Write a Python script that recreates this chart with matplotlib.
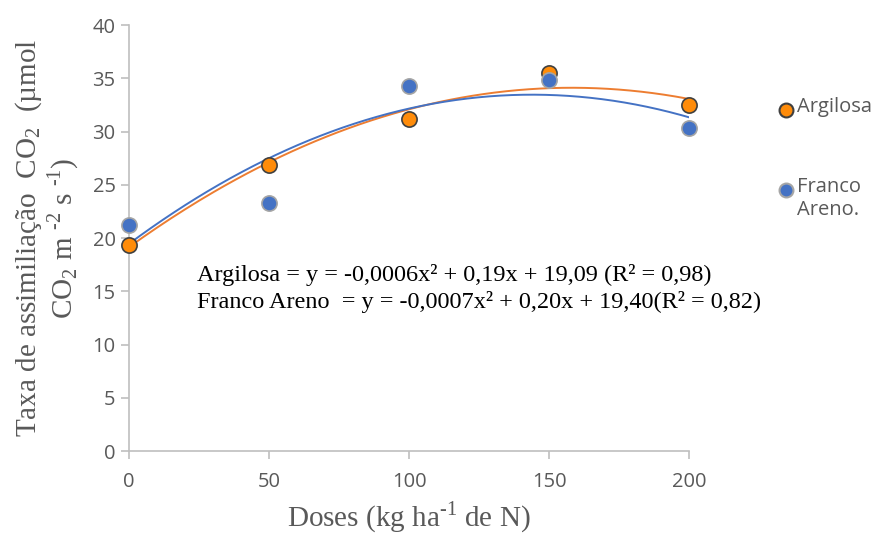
import matplotlib
import matplotlib.pyplot as plt
import numpy as np

matplotlib.use("Agg")

plt.rcParams["mathtext.fontset"] = "custom"
plt.rcParams["mathtext.rm"] = "Liberation Serif"

doses = [0, 50, 100, 150, 200]
argilosa = [19.4, 26.9, 31.2, 35.5, 32.5]
franco = [21.2, 23.3, 34.3, 34.8, 30.3]
series_names = ["Argilosa", "Franco\nAreno."]

eq_argilosa = "Argilosa = y = -0,0006x² + 0,19x + 19,09 (R² = 0,98)"
eq_franco = "Franco Areno  = y = -0,0007x² + 0,20x + 19,40(R² = 0,82)"

ORANGE = "#ff8c0a"
ORANGE_LINE = "#ed7d31"
BLUE = "#4472c4"
GRAY = "#595959"
AXIS = "#bfbfbf"

fig = plt.figure(figsize=(8.76, 5.34), dpi=100)
ax = fig.add_axes([0.147, 0.155, 0.64, 0.798])

xs = np.linspace(0, 200, 200)
for values, color in ((argilosa, ORANGE_LINE), (franco, BLUE)):
    coef = np.polyfit(doses, values, 2)
    ax.plot(xs, np.polyval(coef, xs), color=color, lw=1.4, zorder=2)

styles = [(argilosa, ORANGE, "#404040"), (franco, BLUE, "#a5a5a5")]
for values, face, edge in styles:
    ax.scatter(doses, values, s=120, color=face, edgecolor=edge,
               linewidth=1.2, zorder=3, clip_on=False)

ax.set_xlim(0, 200)
ax.set_ylim(0, 40)
ax.set_xticks(doses)
ax.set_yticks(range(0, 41, 5))

for position in ("right", "top"):
    ax.spines[position].set_visible(False)
for position in ("left", "bottom"):
    ax.spines[position].set_color(AXIS)
    ax.spines[position].set_linewidth(1.2)
ax.tick_params(colors=AXIS, labelcolor=GRAY, labelsize=14.5, length=6, width=1.2)
for label in ax.get_xticklabels() + ax.get_yticklabels():
    label.set_family("Open Sans")
ax.tick_params(axis="x", pad=9)

ax.set_xlabel(r"Doses (kg ha$^{\text{-1}}$ de N)", family="Liberation Serif",
              fontsize=21, color=GRAY, labelpad=5)
ax.set_ylabel("Taxa de assimiliação  CO$_2$  (µmol\nCO$_2$ m $^{\\text{-2}}$ s $^{\\text{-1}}$)",
              family="Liberation Serif", fontsize=21, color=GRAY,
              labelpad=8, linespacing=1.05)

ax.text(24.5, 16.5, eq_argilosa, family="Liberation Serif", fontsize=17.5,
        va="center", ha="left")
ax.text(24.5, 14.0, eq_franco, family="Liberation Serif", fontsize=17.5,
        va="center", ha="left")

# legend drawn by hand so the marker sits on the first line of the label
legend_y = [1 - 110 / 534, 1 - 190 / 534]
for (values, face, edge), name, y in zip(styles, series_names, legend_y):
    fig.add_artist(plt.Line2D([786 / 876], [y], marker="o", markersize=10,
                              markerfacecolor=face, markeredgecolor=edge,
                              markeredgewidth=1.5, linestyle="none",
                              transform=fig.transFigure))
    fig.text(797 / 876, y + 13 / 534, name, family="Open Sans", fontsize=14.5,
             color=GRAY, va="top", ha="left", linespacing=1.2)

fig.savefig("out.png", dpi=100)
plt.close(fig)
